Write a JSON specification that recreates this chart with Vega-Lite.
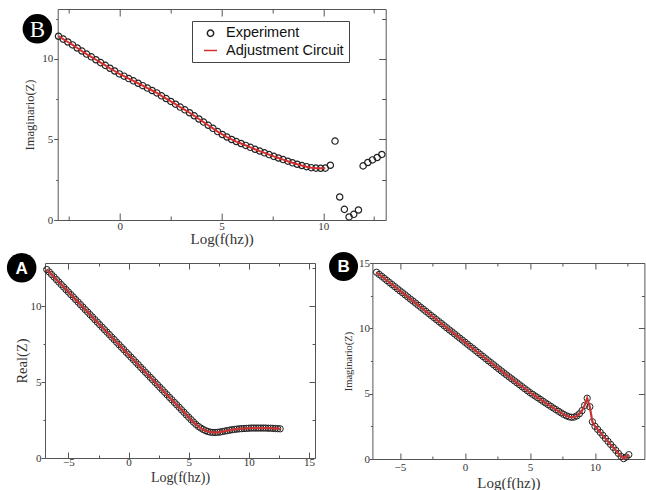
{
"$schema": "https://vega.github.io/schema/vega-lite/v6.json",
"background": "white",
"padding": {"left": 6, "top": 8, "right": 0, "bottom": 0},
"config": {
  "view": {"stroke": "#555", "strokeWidth": 1},
  "axis": {"labelFont": "Liberation Serif", "titleFont": "Liberation Serif", "titleFontWeight": "normal", "labelColor": "#333", "titleColor": "#333", "tickColor": "#555", "tickWidth": 1, "grid": false, "domain": false, "labelOverlap": false, "labelFlush": false}
},
"datasets": {
  "top": [
    {"x":-3.01,"exp":11.41,"fit":11.41},{"x":-2.78,"exp":11.23,"fit":11.23},{"x":-2.55,"exp":11.05,"fit":11.05},{"x":-2.32,"exp":10.87,"fit":10.87},{"x":-2.09,"exp":10.68,"fit":10.68},{"x":-1.86,"exp":10.49,"fit":10.49},{"x":-1.63,"exp":10.30,"fit":10.30},{"x":-1.40,"exp":10.13,"fit":10.13},{"x":-1.17,"exp":9.95,"fit":9.95},{"x":-0.94,"exp":9.77,"fit":9.77},{"x":-0.71,"exp":9.60,"fit":9.60},{"x":-0.48,"exp":9.42,"fit":9.42},{"x":-0.25,"exp":9.25,"fit":9.25},{"x":-0.02,"exp":9.07,"fit":9.07},{"x":0.21,"exp":8.93,"fit":8.93},{"x":0.44,"exp":8.78,"fit":8.78},{"x":0.67,"exp":8.64,"fit":8.64},{"x":0.90,"exp":8.49,"fit":8.49},{"x":1.13,"exp":8.34,"fit":8.34},{"x":1.36,"exp":8.19,"fit":8.19},{"x":1.59,"exp":8.04,"fit":8.04},{"x":1.82,"exp":7.89,"fit":7.89},{"x":2.05,"exp":7.71,"fit":7.71},{"x":2.28,"exp":7.54,"fit":7.54},{"x":2.51,"exp":7.36,"fit":7.36},{"x":2.74,"exp":7.19,"fit":7.19},{"x":2.97,"exp":7.01,"fit":7.01},{"x":3.20,"exp":6.84,"fit":6.84},{"x":3.43,"exp":6.66,"fit":6.66},{"x":3.66,"exp":6.47,"fit":6.47},{"x":3.89,"exp":6.27,"fit":6.27},{"x":4.12,"exp":6.08,"fit":6.08},{"x":4.35,"exp":5.88,"fit":5.88},{"x":4.58,"exp":5.69,"fit":5.69},{"x":4.81,"exp":5.49,"fit":5.49},{"x":5.04,"exp":5.31,"fit":5.31},{"x":5.27,"exp":5.15,"fit":5.15},{"x":5.50,"exp":5.00,"fit":5.00},{"x":5.73,"exp":4.87,"fit":4.87},{"x":5.96,"exp":4.75,"fit":4.75},{"x":6.19,"exp":4.63,"fit":4.63},{"x":6.42,"exp":4.51,"fit":4.51},{"x":6.65,"exp":4.39,"fit":4.39},{"x":6.88,"exp":4.28,"fit":4.28},{"x":7.11,"exp":4.17,"fit":4.17},{"x":7.34,"exp":4.06,"fit":4.06},{"x":7.57,"exp":3.95,"fit":3.95},{"x":7.80,"exp":3.85,"fit":3.85},{"x":8.03,"exp":3.75,"fit":3.75},{"x":8.26,"exp":3.65,"fit":3.65},{"x":8.49,"exp":3.55,"fit":3.55},{"x":8.72,"exp":3.46,"fit":3.46},{"x":8.95,"exp":3.38,"fit":3.38},{"x":9.18,"exp":3.31,"fit":3.31},{"x":9.41,"exp":3.25,"fit":3.25},{"x":9.64,"exp":3.22,"fit":3.22},{"x":9.87,"exp":3.21,"fit":3.21},{"x":10.10,"exp":3.22,"fit":3.22},
    {"x":10.35,"exp":3.40},{"x":10.58,"exp":4.90},{"x":10.81,"exp":1.43},{"x":11.04,"exp":0.66},{"x":11.27,"exp":0.19},{"x":11.50,"exp":0.35},{"x":11.73,"exp":0.62},{"x":11.96,"exp":3.36},{"x":12.19,"exp":3.57},{"x":12.42,"exp":3.73},{"x":12.65,"exp":3.88},{"x":12.88,"exp":4.07}
  ],
  "bottom": [
    {"x":-6.8,"re":12.40,"im":14.29},{"x":-6.6,"re":12.24,"im":14.13},{"x":-6.4,"re":12.07,"im":13.98},{"x":-6.2,"re":11.91,"im":13.82},{"x":-6.0,"re":11.74,"im":13.66},{"x":-5.8,"re":11.58,"im":13.50},{"x":-5.6,"re":11.41,"im":13.35},{"x":-5.4,"re":11.25,"im":13.19},{"x":-5.2,"re":11.08,"im":13.03},{"x":-5.0,"re":10.92,"im":12.87},
    {"x":-4.8,"re":10.75,"im":12.72},{"x":-4.6,"re":10.59,"im":12.56},{"x":-4.4,"re":10.42,"im":12.40},{"x":-4.2,"re":10.26,"im":12.24},{"x":-4.0,"re":10.09,"im":12.09},{"x":-3.8,"re":9.93,"im":11.93},{"x":-3.6,"re":9.76,"im":11.77},{"x":-3.4,"re":9.60,"im":11.61},{"x":-3.2,"re":9.43,"im":11.46},{"x":-3.0,"re":9.27,"im":11.30},
    {"x":-2.8,"re":9.10,"im":11.14},{"x":-2.6,"re":8.94,"im":10.98},{"x":-2.4,"re":8.77,"im":10.83},{"x":-2.2,"re":8.61,"im":10.67},{"x":-2.0,"re":8.44,"im":10.51},{"x":-1.8,"re":8.28,"im":10.36},{"x":-1.6,"re":8.12,"im":10.20},{"x":-1.4,"re":7.95,"im":10.04},{"x":-1.2,"re":7.79,"im":9.88},{"x":-1.0,"re":7.62,"im":9.73},
    {"x":-0.8,"re":7.46,"im":9.57},{"x":-0.6,"re":7.29,"im":9.41},{"x":-0.4,"re":7.13,"im":9.25},{"x":-0.2,"re":6.96,"im":9.10},{"x":0.0,"re":6.80,"im":8.94},{"x":0.2,"re":6.63,"im":8.78},{"x":0.4,"re":6.47,"im":8.62},{"x":0.6,"re":6.30,"im":8.47},{"x":0.8,"re":6.14,"im":8.31},{"x":1.0,"re":5.97,"im":8.15},
    {"x":1.2,"re":5.81,"im":7.99},{"x":1.4,"re":5.64,"im":7.84},{"x":1.6,"re":5.48,"im":7.68},{"x":1.8,"re":5.31,"im":7.52},{"x":2.0,"re":5.15,"im":7.37},{"x":2.2,"re":4.98,"im":7.21},{"x":2.4,"re":4.82,"im":7.05},{"x":2.6,"re":4.65,"im":6.89},{"x":2.8,"re":4.49,"im":6.74},{"x":3.0,"re":4.32,"im":6.58},
    {"x":3.2,"re":4.16,"im":6.43},{"x":3.4,"re":3.99,"im":6.28},{"x":3.6,"re":3.83,"im":6.13},{"x":3.8,"re":3.66,"im":5.98},{"x":4.0,"re":3.50,"im":5.83},{"x":4.2,"re":3.34,"im":5.68},{"x":4.4,"re":3.17,"im":5.53},{"x":4.6,"re":3.01,"im":5.38},{"x":4.8,"re":2.84,"im":5.23},{"x":5.0,"re":2.68,"im":5.08},
    {"x":5.2,"re":2.52,"im":4.95},{"x":5.4,"re":2.36,"im":4.82},{"x":5.6,"re":2.21,"im":4.69},{"x":5.8,"re":2.08,"im":4.56},{"x":6.0,"re":1.97,"im":4.42},{"x":6.2,"re":1.88,"im":4.29},{"x":6.4,"re":1.80,"im":4.16},{"x":6.6,"re":1.74,"im":4.03},{"x":6.8,"re":1.70,"im":3.90},{"x":7.0,"re":1.68,"im":3.78},
    {"x":7.2,"re":1.68,"im":3.65},{"x":7.4,"re":1.69,"im":3.53},{"x":7.6,"re":1.71,"im":3.41},{"x":7.8,"re":1.74,"im":3.31},{"x":8.0,"re":1.77,"im":3.23},{"x":8.2,"re":1.80,"im":3.19},{"x":8.4,"re":1.83,"im":3.21},{"x":8.6,"re":1.86,"im":3.30},{"x":8.8,"re":1.88,"im":3.46},{"x":9.0,"re":1.90,"im":3.70},
    {"x":9.2,"re":1.92,"im":4.10},{"x":9.4,"re":1.93,"im":4.65},{"x":9.6,"re":1.94,"im":4.00},{"x":9.8,"re":1.95,"im":2.85},{"x":10.0,"re":1.96,"im":2.50},{"x":10.2,"re":1.97,"im":2.27},{"x":10.4,"re":1.97,"im":2.04},{"x":10.6,"re":1.97,"im":1.81},{"x":10.8,"re":1.97,"im":1.58},{"x":11.0,"re":1.97,"im":1.35},
    {"x":11.2,"re":1.97,"im":1.12},{"x":11.4,"re":1.97,"im":0.89},{"x":11.6,"re":1.96,"im":0.66},{"x":11.8,"re":1.96,"im":0.43},{"x":12.0,"re":1.95,"im":0.20},{"x":12.2,"re":1.94,"im":0.03},{"x":12.4,"re":1.93,"im":0.15},{"x":12.6,"re":1.92,"im":0.33}
  ]
},
"bounds": "flush",
"spacing": 254,
"vconcat": [
  {
    "bounds": "flush",
    "spacing": 11.7,
    "hconcat": [
      {
        "width": 1, "height": 1,
        "view": {"stroke": null},
        "data": {"values": []},
        "mark": {"type": "point", "opacity": 0},
        "encoding": {}
      },
      {
        "width": 328, "height": 211,
        "data": {"name": "top"},
        "layer": [
          {
            "mark": {"type": "point", "filled": false, "strokeWidth": 1.2, "opacity": 1},
            "encoding": {
              "x": {"field": "x", "type": "quantitative", "scale": {"domain": [-3.05, 13.07], "nice": false, "zero": false},
                "axis": {"orient": "bottom", "title": "Log(f(hz))", "values": [-2.5, 0, 2.5, 5, 7.5, 10, 12.5], "labelExpr": "datum.value % 5 === 0 ? datum.label : ''", "tickSize": {"condition": {"test": "datum.value % 5 === 0", "value": -7}, "value": -4}, "labelPadding": 7, "labelFontSize": 11, "titleFontSize": 15, "titlePadding": -3}},
              "y": {"field": "exp", "type": "quantitative", "scale": {"domain": [0, 13.1], "nice": false, "zero": false},
                "axis": {"orient": "left", "title": "Imaginario(Z)", "values": [0, 2.5, 5, 7.5, 10, 12.5], "labelExpr": "datum.value % 5 === 0 ? datum.label : ''", "tickSize": {"condition": {"test": "datum.value % 5 === 0", "value": 4}, "value": 2}, "labelPadding": 1, "labelFontSize": 11, "titleFontSize": 12.5, "titlePadding": 5}},
              "stroke": {"datum": "Experiment", "type": "nominal", "scale": {"domain": ["Experiment", "Adjustment Circuit"], "range": ["#222222", "#d62f2f"]},
                "legend": {"title": null, "orient": "none", "legendX": 147, "legendY": 12, "strokeColor": "#444", "fillColor": "white", "padding": 5, "labelFont": "Liberation Sans", "labelFontSize": 14.5, "labelColor": "#111", "rowPadding": 2, "symbolOffset": 6, "labelOffset": 8, "symbolStrokeWidth": 1.5}},
              "shape": {"datum": "Experiment", "type": "nominal", "scale": {"domain": ["Experiment", "Adjustment Circuit"], "range": ["circle", "stroke"]},
                "legend": {"title": null, "orient": "none", "legendX": 147, "legendY": 12, "strokeColor": "#444", "fillColor": "white", "padding": 5, "labelFont": "Liberation Sans", "labelFontSize": 14.5, "labelColor": "#111", "rowPadding": 2, "symbolOffset": 6, "labelOffset": 8, "symbolStrokeWidth": 1.5}},
              "size": {"datum": "Experiment", "type": "nominal", "scale": {"domain": ["Experiment", "Adjustment Circuit"], "range": [40, 169]},
                "legend": {"title": null, "orient": "none", "legendX": 147, "legendY": 12, "strokeColor": "#444", "fillColor": "white", "padding": 5, "labelFont": "Liberation Sans", "labelFontSize": 14.5, "labelColor": "#111", "rowPadding": 2, "symbolOffset": 6, "labelOffset": 8, "symbolStrokeWidth": 1.5}}
            }
          },
          {
            "mark": {"type": "line", "color": "#d62f2f", "strokeWidth": 2},
            "encoding": {
              "x": {"field": "x", "type": "quantitative", "scale": {"domain": [-3.05, 13.07], "nice": false, "zero": false},
                "axis": {"orient": "top", "labels": false, "title": null, "values": [-2.5, 0, 2.5, 5, 7.5, 10, 12.5], "tickSize": {"condition": {"test": "datum.value % 5 === 0", "value": -7}, "value": -4}}},
              "y": {"field": "fit", "type": "quantitative", "scale": {"domain": [0, 13.1], "nice": false, "zero": false},
                "axis": {"orient": "right", "labels": false, "title": null, "values": [0, 2.5, 5, 7.5, 10, 12.5], "tickSize": {"condition": {"test": "datum.value % 5 === 0", "value": -7}, "value": -4}}}
            }
          },
          {
            "data": {"values": [{}]},
            "mark": {"type": "point", "filled": true, "color": "black", "opacity": 1, "size": 870, "shape": "circle"},
            "encoding": {"x": {"datum": -4.05, "type": "quantitative", "axis": null}, "y": {"datum": 11.87, "type": "quantitative", "axis": null}}
          },
          {
            "data": {"values": [{}]},
            "mark": {"type": "text", "text": "B", "color": "white", "font": "Liberation Serif", "fontSize": 23, "baseline": "middle", "align": "center", "dy": 1},
            "encoding": {"x": {"datum": -4.05, "type": "quantitative", "axis": null}, "y": {"datum": 11.87, "type": "quantitative", "axis": null}}
          }
        ],
        "resolve": {"axis": {"x": "independent", "y": "independent"}}
      }
    ]
  },
  {
    "bounds": "flush",
    "spacing": 57.4,
    "hconcat": [
      {
        "width": 270, "height": 195,
        "data": {"name": "bottom"},
        "layer": [
          {
            "mark": {"type": "point", "filled": false, "strokeWidth": 1, "opacity": 1},
            "encoding": {
              "x": {"field": "x", "type": "quantitative", "scale": {"domain": [-6.95, 15.5], "nice": false, "zero": false},
                "axis": {"orient": "bottom", "title": "Log(f(hz))", "values": [-5, -2.5, 0, 2.5, 5, 7.5, 10, 12.5, 15], "labelExpr": "datum.value % 5 === 0 ? datum.label : ''", "tickSize": {"condition": {"test": "datum.value % 5 === 0", "value": -6}, "value": -3}, "labelPadding": 4, "labelFontSize": 11, "titleFontSize": 14, "titlePadding": 0}},
              "y": {"field": "re", "type": "quantitative", "scale": {"domain": [0, 12.83], "nice": false, "zero": false},
                "axis": {"orient": "left", "title": "Real(Z)", "values": [0, 2.5, 5, 7.5, 10, 12.5], "labelExpr": "datum.value % 5 === 0 ? datum.label : ''", "tickSize": {"condition": {"test": "datum.value % 5 === 0", "value": 4}, "value": 2}, "labelPadding": 0, "labelFontSize": 11, "titleFontSize": 14.5, "titlePadding": 1}},
              "stroke": {"datum": "Experiment", "type": "nominal", "scale": {"domain": ["Experiment", "Adjustment Circuit"], "range": ["#555555", "#cc3333"]},
                "legend": {"title": null, "orient": "none", "legendX": 127, "legendY": 9, "strokeColor": "#444", "fillColor": "white", "padding": 5, "labelFont": "Liberation Sans", "labelFontSize": 11, "labelColor": "#111", "rowPadding": 2, "symbolOffset": 6, "labelOffset": 4, "symbolStrokeWidth": 1.5}},
              "shape": {"datum": "Experiment", "type": "nominal", "scale": {"domain": ["Experiment", "Adjustment Circuit"], "range": ["circle", "stroke"]},
                "legend": {"title": null, "orient": "none", "legendX": 127, "legendY": 9, "strokeColor": "#444", "fillColor": "white", "padding": 5, "labelFont": "Liberation Sans", "labelFontSize": 11, "labelColor": "#111", "rowPadding": 2, "symbolOffset": 6, "labelOffset": 4, "symbolStrokeWidth": 1.5}},
              "size": {"datum": "Experiment", "type": "nominal", "scale": {"domain": ["Experiment", "Adjustment Circuit"], "range": [36, 70]},
                "legend": {"title": null, "orient": "none", "legendX": 127, "legendY": 9, "strokeColor": "#444", "fillColor": "white", "padding": 5, "labelFont": "Liberation Sans", "labelFontSize": 11, "labelColor": "#111", "rowPadding": 2, "symbolOffset": 6, "labelOffset": 4, "symbolStrokeWidth": 1.5}}
            }
          },
          {
            "mark": {"type": "line", "color": "#cc3333", "strokeWidth": 2.2},
            "encoding": {
              "x": {"field": "x", "type": "quantitative", "scale": {"domain": [-6.95, 15.5], "nice": false, "zero": false},
                "axis": {"orient": "top", "labels": false, "title": null, "values": [-5, -2.5, 0, 2.5, 5, 7.5, 10, 12.5, 15], "tickSize": {"condition": {"test": "datum.value % 5 === 0", "value": -6}, "value": -3}}},
              "y": {"field": "re", "type": "quantitative", "scale": {"domain": [0, 12.83], "nice": false, "zero": false},
                "axis": {"orient": "right", "labels": false, "title": null, "values": [0, 2.5, 5, 7.5, 10, 12.5], "tickSize": {"condition": {"test": "datum.value % 5 === 0", "value": -6}, "value": -3}}}
            }
          },
          {
            "data": {"values": [{}]},
            "mark": {"type": "point", "filled": true, "color": "black", "opacity": 1, "size": 870, "shape": "circle"},
            "encoding": {"x": {"datum": -8.89, "type": "quantitative", "axis": null}, "y": {"datum": 12.52, "type": "quantitative", "axis": null}}
          },
          {
            "data": {"values": [{}]},
            "mark": {"type": "text", "text": "A", "color": "white", "font": "Liberation Sans", "fontWeight": "bold", "fontSize": 17, "baseline": "middle", "align": "center", "dy": 1},
            "encoding": {"x": {"datum": -8.89, "type": "quantitative", "axis": null}, "y": {"datum": 12.52, "type": "quantitative", "axis": null}}
          }
        ],
        "resolve": {"axis": {"x": "independent", "y": "independent"}}
      },
      {
        "width": 272, "height": 196,
        "data": {"name": "bottom"},
        "layer": [
          {
            "mark": {"type": "point", "filled": false, "strokeWidth": 1, "opacity": 1},
            "encoding": {
              "x": {"field": "x", "type": "quantitative", "scale": {"domain": [-7.12, 13.8], "nice": false, "zero": false},
                "axis": {"orient": "bottom", "title": "Log(f(hz))", "values": [-5, -2.5, 0, 2.5, 5, 7.5, 10, 12.5], "labelExpr": "datum.value % 5 === 0 ? datum.label : ''", "tickSize": {"condition": {"test": "datum.value % 5 === 0", "value": -6}, "value": -3}, "labelPadding": 8, "labelFontSize": 11, "titleFontSize": 15, "titlePadding": 0}},
              "y": {"field": "im", "type": "quantitative", "scale": {"domain": [0, 15], "nice": false, "zero": false},
                "axis": {"orient": "left", "title": "Imaginario(Z)", "values": [0, 2.5, 5, 7.5, 10, 12.5, 15], "labelExpr": "datum.value % 5 === 0 ? datum.label : ''", "tickSize": {"condition": {"test": "datum.value % 5 === 0", "value": 3}, "value": 2}, "labelPadding": 0, "labelFontSize": 11, "titleFontSize": 10.5, "titlePadding": 5}},
              "stroke": {"datum": "Experiment", "type": "nominal", "scale": {"domain": ["Experiment", "Adjustment Circuit"], "range": ["#555555", "#cc3333"]},
                "legend": {"title": null, "orient": "none", "legendX": 130, "legendY": 12, "strokeColor": "#444", "fillColor": "white", "padding": 5, "labelFont": "Liberation Sans", "labelFontSize": 11, "labelColor": "#111", "rowPadding": 2, "symbolOffset": 6, "labelOffset": 4, "symbolStrokeWidth": 1.5}},
              "shape": {"datum": "Experiment", "type": "nominal", "scale": {"domain": ["Experiment", "Adjustment Circuit"], "range": ["circle", "stroke"]},
                "legend": {"title": null, "orient": "none", "legendX": 130, "legendY": 12, "strokeColor": "#444", "fillColor": "white", "padding": 5, "labelFont": "Liberation Sans", "labelFontSize": 11, "labelColor": "#111", "rowPadding": 2, "symbolOffset": 6, "labelOffset": 4, "symbolStrokeWidth": 1.5}},
              "size": {"datum": "Experiment", "type": "nominal", "scale": {"domain": ["Experiment", "Adjustment Circuit"], "range": [36, 70]},
                "legend": {"title": null, "orient": "none", "legendX": 130, "legendY": 12, "strokeColor": "#444", "fillColor": "white", "padding": 5, "labelFont": "Liberation Sans", "labelFontSize": 11, "labelColor": "#111", "rowPadding": 2, "symbolOffset": 6, "labelOffset": 4, "symbolStrokeWidth": 1.5}}
            }
          },
          {
            "mark": {"type": "line", "color": "#cc3333", "strokeWidth": 2.2},
            "encoding": {
              "x": {"field": "x", "type": "quantitative", "scale": {"domain": [-7.12, 13.8], "nice": false, "zero": false},
                "axis": {"orient": "top", "labels": false, "title": null, "values": [-5, -2.5, 0, 2.5, 5, 7.5, 10, 12.5], "tickSize": {"condition": {"test": "datum.value % 5 === 0", "value": -6}, "value": -3}}},
              "y": {"field": "im", "type": "quantitative", "scale": {"domain": [0, 15], "nice": false, "zero": false},
                "axis": {"orient": "right", "labels": false, "title": null, "values": [0, 2.5, 5, 7.5, 10, 12.5, 15], "tickSize": {"condition": {"test": "datum.value % 5 === 0", "value": -6}, "value": -3}}}
            }
          },
          {
            "data": {"values": [{}]},
            "mark": {"type": "point", "filled": true, "color": "black", "opacity": 1, "size": 840, "shape": "circle"},
            "encoding": {"x": {"datum": -9.34, "type": "quantitative", "axis": null}, "y": {"datum": 14.74, "type": "quantitative", "axis": null}}
          },
          {
            "data": {"values": [{}]},
            "mark": {"type": "text", "text": "B", "color": "white", "font": "Liberation Sans", "fontWeight": "bold", "fontSize": 17, "baseline": "middle", "align": "center", "dy": 1},
            "encoding": {"x": {"datum": -9.34, "type": "quantitative", "axis": null}, "y": {"datum": 14.74, "type": "quantitative", "axis": null}}
          }
        ],
        "resolve": {"axis": {"x": "independent", "y": "independent"}}
      }
    ]
  }
]
}
